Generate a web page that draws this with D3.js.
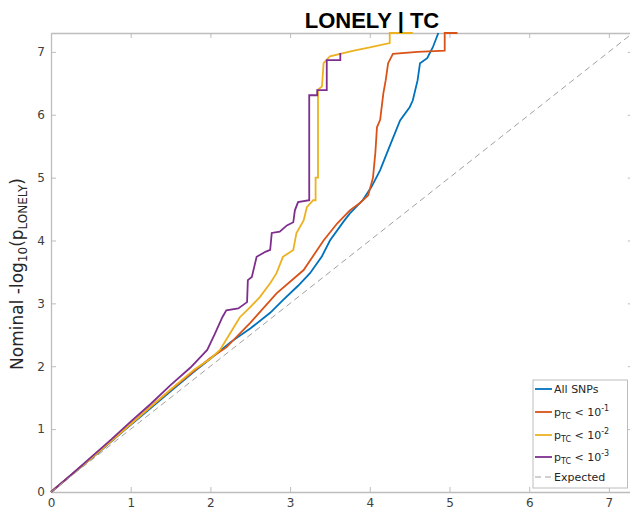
<!DOCTYPE html>
<html><head><meta charset="utf-8">
<script src="https://cdn.jsdelivr.net/npm/d3@7"></script>
<style>body{margin:0;background:#fff;} svg{display:block;}</style>
</head><body>
<svg id="c" width="630" height="513"></svg>
<script>
const ticks = [0,1,2,3,4,5,6,7];
const allSNPs = [[0,0],[0.3,0.32],[0.6,0.63],[0.9,0.96],[1.2,1.28],[1.5,1.6],[1.8,1.92],[2.0,2.12],[2.25,2.38],[2.5,2.6],[2.75,2.85],[2.91,3.05],[3.1,3.28],[3.25,3.48],[3.4,3.75],[3.5,4.0],[3.67,4.3],[3.75,4.43],[3.91,4.64],[4.02,4.85],[4.13,5.12],[4.25,5.5],[4.38,5.91],[4.5,6.12],[4.54,6.23],[4.6,6.55],[4.63,6.82],[4.72,6.9],[4.79,7.07],[4.86,7.3]];
const p1 = [[0,0],[0.3,0.32],[0.6,0.64],[0.9,0.97],[1.2,1.3],[1.5,1.62],[1.8,1.93],[2.0,2.13],[2.2,2.3],[2.5,2.69],[2.83,3.16],[3.17,3.53],[3.42,4.0],[3.59,4.27],[3.75,4.48],[3.88,4.6],[3.98,4.72],[4.04,5.0],[4.07,5.4],[4.09,5.8],[4.13,5.92],[4.17,6.34],[4.2,6.55],[4.23,6.82],[4.29,6.97],[4.6,7.0],[4.94,7.02],[4.94,7.3],[5.1,7.3]];
const p2 = [[0,0],[0.3,0.32],[0.6,0.64],[0.9,0.97],[1.2,1.3],[1.5,1.63],[1.8,1.95],[2.0,2.12],[2.12,2.26],[2.25,2.53],[2.37,2.78],[2.5,2.94],[2.62,3.1],[2.75,3.32],[2.83,3.48],[2.91,3.74],[3.04,3.85],[3.08,4.12],[3.17,4.32],[3.21,4.53],[3.29,4.64],[3.32,4.64],[3.32,5.0],[3.35,5.0],[3.35,6.4],[3.4,6.45],[3.42,6.82],[3.5,6.93],[3.8,7.02],[4.0,7.07],[4.25,7.14],[4.25,7.3],[4.54,7.3]];
const p3 = [[0,0],[0.25,0.27],[0.5,0.55],[0.75,0.83],[1.0,1.12],[1.25,1.4],[1.5,1.7],[1.75,1.98],[1.96,2.26],[2.05,2.5],[2.15,2.78],[2.2,2.89],[2.35,2.92],[2.46,3.02],[2.47,3.37],[2.52,3.42],[2.58,3.74],[2.69,3.82],[2.75,3.85],[2.77,4.12],[2.87,4.14],[2.96,4.24],[3.04,4.29],[3.06,4.48],[3.10,4.61],[3.24,4.64],[3.24,6.31],[3.34,6.31],[3.34,6.39],[3.46,6.39],[3.46,6.87],[3.63,6.87],[3.63,6.98]];
const expected = [[0,0],[7.3,7.3]];
const seriesNames = ["All SNPs","p1","p2","p3","Expected"];
const colors = ["#0072BD","#D95319","#EDB120","#7E2F8E","#a0a0a0"];

const svg = d3.select("#c");
const x = d3.scaleLinear().domain([0,7.3]).range([51,632.8]);
const y = d3.scaleLinear().domain([0,7.3]).range([492,33]);
const axisColor = "#bdbdbd";
const font = "DejaVu Sans, sans-serif";

function styleAxis(g, labels){
  g.select(".domain").attr("stroke",axisColor).attr("stroke-width",1.3);
  g.selectAll(".tick line").attr("stroke",axisColor).attr("stroke-width",1);
  g.selectAll(".tick text").attr("fill","#404040").attr("font-family",font).attr("font-size",12);
  if(!labels) g.selectAll(".tick text").remove();
}
svg.append("g").attr("transform","translate(0,492)")
  .call(d3.axisBottom(x).tickValues(ticks).tickSizeInner(-5).tickSizeOuter(0).tickPadding(6).tickFormat(d3.format("d")))
  .call(g=>styleAxis(g,true));
svg.append("g").attr("transform","translate(0,33)")
  .call(d3.axisTop(x).tickValues(ticks).tickSizeInner(-5).tickSizeOuter(0))
  .call(g=>styleAxis(g,false));
svg.append("g").attr("transform","translate(51,0)")
  .call(d3.axisLeft(y).tickValues(ticks).tickSizeInner(-5).tickSizeOuter(0).tickPadding(6).tickFormat(d3.format("d")))
  .call(g=>styleAxis(g,true));
svg.append("g").attr("transform","translate(632.8,0)")
  .call(d3.axisRight(y).tickValues(ticks).tickSizeInner(-5).tickSizeOuter(0))
  .call(g=>styleAxis(g,false));

const line = d3.line().x(d=>x(d[0])).y(d=>y(d[1]));
const data = [allSNPs,p1,p2,p3];
data.forEach((s,i)=>{
  svg.append("path").datum(s).attr("d",line).attr("fill","none")
    .attr("stroke",colors[i]).attr("stroke-width",1.8).attr("stroke-linejoin","miter");
});
svg.append("path").datum(expected).attr("d",line).attr("fill","none")
  .attr("stroke",colors[4]).attr("stroke-width",1).attr("stroke-dasharray","6,4");

// title
svg.append("text").attr("x",372).attr("y",28).attr("text-anchor","middle")
  .attr("font-family","Liberation Sans, Arial, sans-serif").attr("font-weight","bold")
  .attr("font-size",22).attr("fill","#000").text("LONELY | TC");

// y label
const yl = svg.append("text").attr("transform","translate(23,274) rotate(-90)")
  .attr("text-anchor","middle").attr("font-family",font).attr("font-size",17).attr("fill","#262626");
yl.append("tspan").text("Nominal -log");
yl.append("tspan").attr("font-size",12).attr("dy",4).text("10");
yl.append("tspan").attr("dy",-4).text("(p");
yl.append("tspan").attr("font-size",12).attr("dy",4).text("LONELY");
yl.append("tspan").attr("dy",-4).text(")");

// legend
const lg = svg.append("g");
lg.append("rect").attr("x",533).attr("y",380).attr("width",94.5).attr("height",108)
  .attr("fill","#fff").attr("stroke","#bdbdbd").attr("stroke-width",1);
const rows = [389,412,435,457,477];
const supers = ["-1","-2","-3"];
rows.forEach((ry,i)=>{
  lg.append("line").attr("x1",535).attr("x2",552).attr("y1",ry).attr("y2",ry)
    .attr("stroke",colors[i]).attr("stroke-width",i===4?1:1.8)
    .attr("stroke-dasharray",i===4?"6,4":null);
  const t = lg.append("text").attr("x",554).attr("y",ry+4).attr("font-family",font)
    .attr("font-size",11).attr("fill","#262626");
  if(i===0) t.text(seriesNames[0]);
  else if(i===4) t.text(seriesNames[4]);
  else {
    t.append("tspan").text("p");
    t.append("tspan").attr("font-size",8).attr("dy",3).text("TC");
    t.append("tspan").attr("dy",-3).text(" < 10");
    t.append("tspan").attr("font-size",8).attr("dy",-5).text(supers[i-1]);
  }
});
</script>
</body></html>
